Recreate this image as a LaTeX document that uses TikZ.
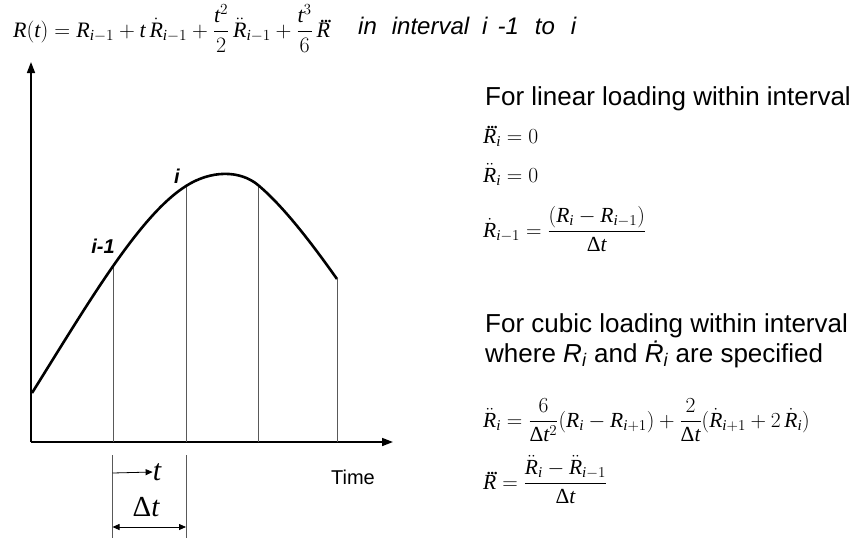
\RequirePackage{fix-cm}
\documentclass[tikz,border=0pt]{standalone}
\usepackage{amsmath}
\usepackage{fontspec}
\setmainfont{Liberation Serif}
\setsansfont{Liberation Sans}
\usetikzlibrary{arrows.meta}
\newcommand\vR{\text{\normalfont\itshape R}}
\newcommand\vRddd{\text{\normalfont\itshape R\llap{\raisebox{0.66em}[0pt][0pt]{\upshape .\kern-0.09em.\kern-0.09em.\kern-0.1em}}}}
\newcommand\vt{\text{\normalfont\itshape t}}
\newcommand\vi{\text{\normalfont\itshape i}}
\newcommand\vD{\text{\normalfont Δ}}
\begin{document}
\begin{tikzpicture}[x=1pt,y=-1pt,
  axisline/.style={line width=1.6pt,-{Triangle[length=11pt,width=8pt]}},
  curveline/.style={line width=2.6pt},
  gridline/.style={gray!70!black,line width=0.7pt},
  lbl/.style={font=\sffamily\fontsize{20}{24}\selectfont\bfseries\itshape,inner sep=0},
  txt/.style={font=\sffamily\fontsize{26}{30}\selectfont,inner sep=0,anchor=base west},
  eqs/.style={font=\fontsize{21.5}{25}\selectfont,inner sep=0,anchor=base west},
  eqtop/.style={font=\fontsize{22}{26}\selectfont,inner sep=0,anchor=base west},
  smallarrow/.style={line width=0.8pt,-{Triangle[length=7pt,width=6pt]}},
  dimarrow/.style={line width=0.8pt,{Triangle[length=7pt,width=6pt]}-{Triangle[length=7pt,width=6pt]}}]
\useasboundingbox (0,0) rectangle (863,539);
% axes
\coordinate (O) at (31,442);
\coordinate (ytop) at (31,62);
\coordinate (xend) at (393,442);
\draw[axisline] (O) -- (ytop);
\draw[axisline] (O) -- (xend);
% curve points
\coordinate (c0) at (32,393);
\coordinate (p1) at (113.5,265.5);
\coordinate (p2) at (186,186);
\coordinate (p3) at (258,185);
\coordinate (p4) at (337,279);
\coordinate (b1) at (113.5,442);
\coordinate (b2) at (186,442);
\coordinate (b3) at (258,442);
\coordinate (b4) at (337,442);
\draw[gridline] (p1) -- (b1);
\draw[gridline] (p2) -- (b2);
\draw[gridline] (p3) -- (b3);
\draw[gridline] (p4) -- (b4);
\draw[curveline] (c0) .. controls (90,300) and (140,215) .. (p2)
  .. controls (211,170) and (240,170) .. (p3)
  .. controls (285,207.5) and (315,248) .. (p4);
\node[lbl] (li) at (177,176) {i};
\node[lbl] (lim) at (103,246) {i-1};
% dimension
\coordinate (e1t) at (112.5,455);
\coordinate (e1b) at (112.5,538);
\coordinate (e2t) at (186,455);
\coordinate (e2b) at (186,538);
\draw[gridline] (e1t) -- (e1b);
\draw[gridline] (e2t) -- (e2b);
\coordinate (ta) at (112.5,473);
\node[inner sep=0,font=\fontsize{30}{34}\selectfont] (tl) at (157,472) {$\vt$};
\draw[smallarrow] (ta) -- (tl.west);
\node[inner sep=0,font=\fontsize{29}{33}\selectfont] (dt) at (146,507) {$\vD\vt$};
\coordinate (d1) at (112.5,527);
\coordinate (d2) at (186,527);
\draw[dimarrow] (d1) -- (d2);
\node[inner sep=0,font=\sffamily\fontsize{20}{24}\selectfont] (time) at (353,477) {Time};
% top formula
\node[eqtop] (ftop) at (13,37) {$\vR(\vt)=\vR_{\vi-1}+\vt\,\dot{\vR}_{\vi-1}+\dfrac{\vt^{2}}{2}\,\ddot{\vR}_{\vi-1}+\dfrac{\vt^{3}}{6}\,\vRddd$};
\node[inner sep=0,anchor=base west,font=\sffamily\fontsize{24}{28}\selectfont\itshape] (ftxt) at (358,34) {in\hspace{15pt}interval\hspace{13pt}i\hspace{10pt}-1\hspace{16pt}to\hspace{16pt}i};
% linear
\node[txt] (lin) at (485,105) {For linear loading within interval};
\node[eqs] (l1) at (483,143) {$\vRddd_{\vi}=0$};
\node[eqs] (l2) at (483,182) {$\ddot{\vR}_{\vi}=0$};
\node[eqs] (l3) at (483,237) {$\dot{\vR}_{\vi-1}=\dfrac{(\vR_{\vi}-\vR_{\vi-1})}{\vD\vt}$};
% cubic
\node[txt] (cub) at (485,332) {For cubic loading within interval};
\node[txt] (cub2) at (485,362) {where \textit{R}\textsubscript{\textit{i}} and \textit{\.{R}}\textsubscript{\textit{i}} are specified};
\node[eqs] (c1) at (483,427) {$\ddot{\vR}_{\vi}=\dfrac{6}{\vD\vt^{2}}(\vR_{\vi}-\vR_{\vi+1})+\dfrac{2}{\vD\vt}(\dot{\vR}_{\vi+1}+2\,\dot{\vR}_{\vi})$};
\node[eqs] (c2) at (483,489) {$\vRddd=\dfrac{\ddot{\vR}_{\vi}-\ddot{\vR}_{\vi-1}}{\vD\vt}$};
\end{tikzpicture}
\end{document}
